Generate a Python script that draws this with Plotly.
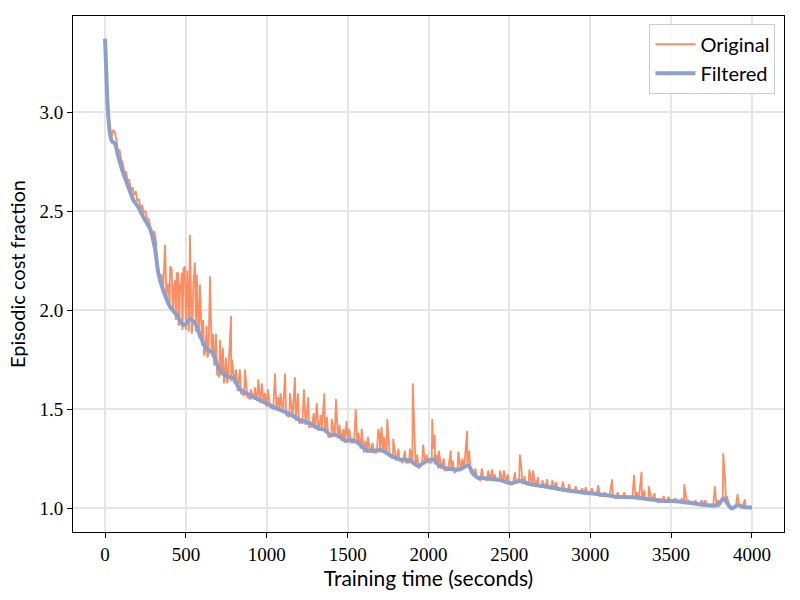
import plotly.graph_objects as go

# ---- data ----
# Original series: regular samples every 20 s (0..4000)
base_values = [
    3.36, 2.97, 2.87, 2.90, 2.80, 2.76, 2.69, 2.65, 2.60, 2.58,
    2.55, 2.51, 2.49, 2.46, 2.42, 2.36, 2.26, 2.16, 2.11, 2.05,
    2.03, 1.99, 1.98, 1.94, 1.92, 1.90, 1.93, 1.90, 1.91, 1.86,
    1.82, 1.79, 1.78, 1.77, 1.73, 1.69, 1.67, 1.65, 1.65, 1.64,
    1.63, 1.59, 1.58, 1.57, 1.56, 1.55, 1.55, 1.54, 1.53, 1.53,
    1.51, 1.51, 1.50, 1.49, 1.49, 1.48, 1.47, 1.46, 1.46, 1.44,
    1.43, 1.43, 1.42, 1.41, 1.41, 1.40, 1.39, 1.39, 1.38, 1.36,
    1.36, 1.36, 1.35, 1.34, 1.33, 1.33, 1.33, 1.33, 1.32, 1.30,
    1.28, 1.28, 1.28, 1.28, 1.28, 1.28, 1.28, 1.27, 1.26, 1.25,
    1.24, 1.24, 1.23, 1.23, 1.23, 1.22, 1.21, 1.20, 1.22, 1.22,
    1.23, 1.23, 1.22, 1.20, 1.20, 1.19, 1.19, 1.19, 1.18, 1.19,
    1.19, 1.20, 1.21, 1.18, 1.16, 1.15, 1.14, 1.15, 1.14, 1.14,
    1.14, 1.14, 1.14, 1.13, 1.13, 1.12, 1.12, 1.13, 1.13, 1.12,
    1.12, 1.12, 1.11, 1.11, 1.11, 1.11, 1.10, 1.10, 1.10, 1.10,
    1.09, 1.09, 1.09, 1.09, 1.08, 1.08, 1.08, 1.08, 1.07, 1.07,
    1.07, 1.07, 1.07, 1.06, 1.06, 1.06, 1.06, 1.06, 1.05, 1.05,
    1.05, 1.05, 1.05, 1.05, 1.05, 1.04, 1.04, 1.04, 1.04, 1.04,
    1.04, 1.03, 1.03, 1.03, 1.03, 1.03, 1.03, 1.03, 1.03, 1.02,
    1.02, 1.02, 1.02, 1.02, 1.02, 1.01, 1.01, 1.01, 1.01, 1.01,
    1.02, 1.04, 1.03, 1.01, 1.00, 1.01, 1.01, 1.00, 1.00, 1.00,
    1.00,
]
base_times = [20 * i for i in range(len(base_values))]

# Original series: extra samples (spikes and dips) between the regular ones
extra_times = [
    50, 70, 90, 110, 130, 150, 170, 190, 210, 230, 250, 270, 290,
    305, 315, 350, 365, 371, 385, 391, 402, 412, 425, 433, 437, 443, 452, 455,
    463, 468, 474, 478, 485, 494, 503, 509, 515, 518, 525, 530, 536, 546, 556,
    562, 567, 575, 587, 595, 607, 612, 628, 633, 649, 657, 669, 675, 686, 693,
    705, 711, 729, 735, 748, 755, 779, 785, 810,
    834, 865, 876, 900, 927, 948, 970, 989, 1007, 1051, 1070, 1085, 1113, 1143,
    1174, 1193, 1230, 1257, 1290, 1309, 1335, 1356, 1372, 1401, 1428, 1450,
    1475, 1494, 1510, 1550, 1567, 1587, 1610, 1625, 1655, 1690, 1698, 1710,
    1725, 1745, 1755, 1782, 1815, 1854, 1885, 1903, 1930, 1967, 1990, 2023,
    2030, 2039, 2050, 2064, 2095, 2138, 2150, 2184, 2210, 2239, 2252, 2290,
    2330, 2370, 2394, 2410, 2442, 2466, 2490, 2535, 2565, 2575, 2595, 2623,
    2647, 2678, 2705, 2734, 2765, 2790, 2832, 2870, 2910, 2950, 2973, 3010,
    3049, 3090, 3135, 3170, 3210, 3271, 3290, 3317, 3335, 3362, 3399, 3430,
    3455, 3482, 3525, 3565, 3581, 3610, 3650, 3690, 3712, 3771, 3790, 3822,
    3833, 3845, 3911, 3956,
]
extra_values = [
    2.91, 2.86, 2.81, 2.74, 2.70, 2.66, 2.62, 2.60, 2.56, 2.53, 2.50, 2.46, 2.40,
    2.40, 2.35, 2.18, 2.20, 2.33, 2.13, 2.13, 2.22, 2.21, 2.10, 2.15, 1.95, 2.185, 2.19, 1.92,
    2.13, 2.08, 2.19, 1.90, 2.21, 2.22, 2.00, 2.20, 2.05, 1.89, 2.38, 2.10, 1.88, 2.13, 2.24,
    1.89, 2.18, 2.00, 2.13, 1.95, 1.95, 1.77, 1.92, 1.76, 2.17, 1.90, 1.88, 1.72, 1.88, 1.67,
    1.66, 1.85, 1.81, 1.63, 1.76, 1.63, 1.97, 1.75, 1.70,
    1.70, 1.70, 1.58, 1.60, 1.61, 1.65, 1.63, 1.58, 1.60, 1.68, 1.56, 1.58, 1.68, 1.58,
    1.66, 1.58, 1.60, 1.56, 1.48, 1.53, 1.47, 1.58, 1.46, 1.45, 1.55, 1.42,
    1.40, 1.44, 1.40, 1.50, 1.38, 1.40, 1.34, 1.36, 1.33, 1.40, 1.37, 1.41,
    1.36, 1.45, 1.33, 1.35, 1.30, 1.29, 1.30, 1.63, 1.27, 1.32, 1.27, 1.45,
    1.30, 1.37, 1.27, 1.29, 1.25, 1.29, 1.24, 1.285, 1.25, 1.39, 1.29, 1.20,
    1.20, 1.19, 1.195, 1.17, 1.19, 1.19, 1.17, 1.18, 1.27, 1.20, 1.16, 1.195,
    1.19, 1.155, 1.14, 1.146, 1.14, 1.13, 1.133, 1.12, 1.11, 1.10, 1.105, 1.10,
    1.116, 1.08, 1.145, 1.08, 1.08, 1.167, 1.08, 1.183, 1.09, 1.11, 1.074, 1.05,
    1.06, 1.057, 1.05, 1.05, 1.12, 1.04, 1.04, 1.04, 1.04, 1.11, 1.04, 1.276,
    1.155, 1.06, 1.07, 1.045,
]

# Filtered series (smooth curve)
filtered_times = [
    0, 8, 15, 25, 35, 45, 62, 80, 113, 145, 175, 205, 237, 278, 309, 330, 360,
    402, 443, 484, 505, 525, 556, 587, 618, 645, 665, 700, 742, 793, 834, 896,
    958, 1020, 1082, 1143, 1205, 1267, 1300, 1329, 1360, 1390, 1420, 1452,
    1490, 1520, 1556, 1590, 1618, 1660, 1700, 1730, 1761, 1823, 1885, 1937,
    1978, 2029, 2070, 2112, 2160, 2194, 2245, 2270, 2300, 2350, 2400, 2442,
    2513, 2565, 2627, 2750, 2853, 2956, 3059, 3162, 3265, 3368, 3430, 3513,
    3600, 3720, 3792, 3823, 3850, 3874, 3915, 3945, 3967, 4000,
]
filtered_values = [
    3.37, 3.20, 3.05, 2.93, 2.87, 2.85, 2.84, 2.78, 2.69, 2.62, 2.556, 2.52,
    2.47, 2.41, 2.31, 2.185, 2.10, 2.017, 1.975, 1.924, 1.935, 1.955, 1.935,
    1.874, 1.815, 1.795, 1.785, 1.71, 1.67, 1.655, 1.60, 1.57, 1.545, 1.52,
    1.495, 1.475, 1.444, 1.428, 1.41, 1.40, 1.395, 1.37, 1.37, 1.36, 1.34,
    1.345, 1.335, 1.31, 1.29, 1.29, 1.293, 1.285, 1.268, 1.246, 1.242, 1.212,
    1.234, 1.246, 1.212, 1.20, 1.195, 1.195, 1.215, 1.185, 1.155, 1.15, 1.145,
    1.141, 1.125, 1.138, 1.121, 1.105, 1.09, 1.079, 1.07, 1.057, 1.054, 1.044,
    1.037, 1.035, 1.028, 1.015, 1.015, 1.05, 1.02, 0.998, 1.015, 1.005, 1.003,
    1.003,
]

x_ticks = [0, 500, 1000, 1500, 2000, 2500, 3000, 3500, 4000]
y_ticks = [1.0, 1.5, 2.0, 2.5, 3.0]

# ---- build original series by merging regular and extra samples ----
pairs = sorted(zip(base_times + extra_times, base_values + extra_values))
orig_t = [p[0] for p in pairs]
orig_v = [p[1] for p in pairs]

ORANGE = "#fc8d62"
BLUE = "#8da0cb"

fig = go.Figure()
fig.add_trace(go.Scatter(
    x=orig_t, y=orig_v, mode="lines", name="Original",
    line=dict(color=ORANGE, width=1.8),
))
fig.add_trace(go.Scatter(
    x=filtered_times, y=filtered_values, mode="lines", name="Filtered",
    line=dict(color=BLUE, width=4, shape="spline", smoothing=0.6),
))

tick_font = dict(family="Liberation Serif", size=19, color="black")
axis_common = dict(
    showline=True, linecolor="black", linewidth=1, mirror=True,
    ticks="outside", ticklen=5, tickcolor="black", tickwidth=1,
    showgrid=True, gridcolor="#e5e5e5", gridwidth=2, zeroline=False,
    tickfont=tick_font,
)

fig.update_layout(
    width=800, height=600,
    margin=dict(l=73, r=16, t=16, b=68),
    paper_bgcolor="white", plot_bgcolor="white",
    font=dict(family="Lato", size=19, color="black"),
    xaxis=dict(
        range=[-198, 4198], tickvals=x_ticks,
        ticktext=[str(v) for v in x_ticks],
        title=dict(text="Training time (seconds)", font=dict(family="Lato", size=21), standoff=4),
        **axis_common,
    ),
    yaxis=dict(
        range=[0.879, 3.485], tickvals=y_ticks,
        ticktext=[f"{v:.1f}" for v in y_ticks],
        title=dict(text="Episodic cost fraction", font=dict(family="Lato", size=20), standoff=8),
        **axis_common,
    ),
    legend=dict(
        x=0.988, y=0.985, xanchor="right", yanchor="top",
        bgcolor="rgba(255,255,255,0.85)", bordercolor="#cccccc", borderwidth=1,
        font=dict(family="Lato", size=20),
        tracegroupgap=0, itemwidth=40,
    ),
    showlegend=True,
)

fig.write_html("out.html")
